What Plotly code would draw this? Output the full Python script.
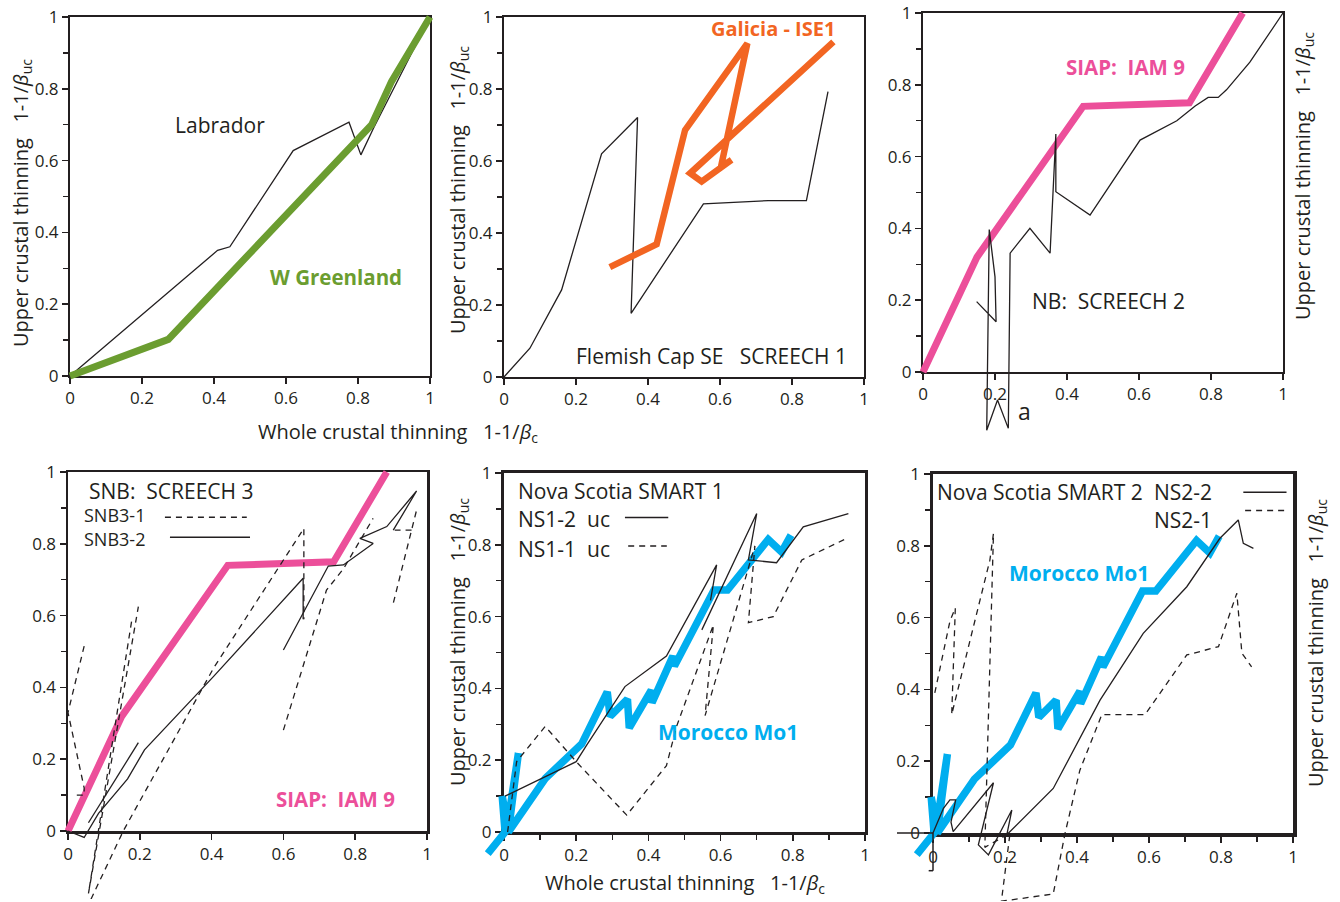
import plotly.graph_objects as go

# ---------------- data ----------------
# Panel 1: Labrador / W Greenland
labrador_x = [0, 0.41, 0.444, 0.62, 0.775, 0.808, 0.843, 0.93, 1.0]
labrador_y = [0, 0.35, 0.36, 0.628, 0.707, 0.616, 0.69, 0.86, 1.0]
greenland_x = [0, 0.273, 0.838, 0.893, 1.0]
greenland_y = [0, 0.102, 0.70, 0.82, 1.0]

# Panel 2: Flemish Cap SE SCREECH 1 / Galicia ISE1
flemish_x = [0, 0.072, 0.16, 0.271, 0.371, 0.353, 0.554, 0.734, 0.84, 0.90]
flemish_y = [0, 0.08, 0.242, 0.62, 0.721, 0.177, 0.481, 0.49, 0.49, 0.793]
galicia_x = [0.294, 0.424, 0.503, 0.676, 0.603, 0.632, 0.549, 0.517, 0.915]
galicia_y = [0.305, 0.369, 0.686, 0.927, 0.585, 0.603, 0.543, 0.566, 0.931]

# Panel 3: NB SCREECH 2 ; SIAP IAM 9 (also panel 4)
screech2_x = [0.149, 0.203, 0.2, 0.184, 0.177, 0.207, 0.237, 0.242, 0.297, 0.353,
              0.369, 0.369, 0.464, 0.603, 0.705, 0.756, 0.792, 0.82, 0.843, 0.908, 1.0]
screech2_y = [0.196, 0.14, 0.265, 0.397, -0.162, -0.078, -0.157, 0.331, 0.4, 0.331,
              0.663, 0.502, 0.437, 0.646, 0.7, 0.741, 0.765, 0.765, 0.786, 0.863, 1.0]
siap_x = [0, 0.15, 0.445, 0.74, 0.888]
siap_y = [0, 0.32, 0.74, 0.75, 1.0]

# Panel 4: SNB SCREECH 3 (None = break between line pieces)
snb31_x = [0.045, 0.0, 0.045, 0.045, 0.015, None,
           0.177, 0.057, 0.196, None,
           0.064, 0.154, 0.405, 0.6, 0.657, 0.657, None,
           0.6, 0.72, 0.767, 0.85, None,
           0.97, 0.957, 0.906, None,
           0.957, 0.91]
snb31_y = [0.515, 0.33, 0.12, 0.1, 0.1, None,
           0.583, -0.174, 0.625, None,
           -0.19, 0.0, 0.453, 0.755, 0.843, 0.59, None,
           0.281, 0.671, 0.73, 0.871, None,
           0.89, 0.838, 0.634, None,
           0.838, 0.838]
snb32_x = [0, 0.045, 0.085, 0.166, 0.213, 0.382, 0.405, 0.655, 0.655, None,
           0.057, 0.196, None,
           0.6, 0.725, 0.767, 0.85, 0.813, 0.888, 0.971, 0.906]
snb32_y = [0, -0.018, 0.049, 0.145, 0.226, 0.407, 0.43, 0.704, 0.59, None,
           0.023, 0.246, None,
           0.504, 0.738, 0.741, 0.801, 0.815, 0.848, 0.947, 0.838]

# Panel 5: Nova Scotia SMART 1
ns12_x = [0.003, 0.2, 0.229, 0.294, 0.335, 0.45, 0.589, 0.572, None,
          0.548, 0.7, 0.677, 0.755, 0.829, 0.954]
ns12_y = [0.1, 0.196, 0.242, 0.34, 0.405, 0.49, 0.744, 0.645, None,
          0.563, 0.887, 0.758, 0.75, 0.85, 0.887]
ns11_x = [0.01, 0.035, 0.114, 0.2, 0.34, 0.45, 0.478, 0.58, 0.557, 0.695,
          0.677, 0.746, 0.825, 0.954]
ns11_y = [0.0, 0.196, 0.294, 0.196, 0.047, 0.185, 0.294, 0.577, 0.324, 0.797,
          0.583, 0.6, 0.758, 0.82]

# Morocco Mo1 (panels 5 and 6)
mo1_x = [-0.045, 0.003, -0.005, 0.01, 0.04, 0.012, 0.115, 0.215, 0.286, 0.294,
         0.342, 0.347, 0.408, 0.41, 0.468, 0.472, 0.582, 0.619, 0.732, 0.769, 0.795]
mo1_y = [-0.06, 0.0, 0.1, 0.02, 0.22, 0.0, 0.15, 0.245, 0.39, 0.322,
         0.37, 0.29, 0.395, 0.36, 0.49, 0.462, 0.674, 0.674, 0.815, 0.78, 0.827]

# Panel 6: Nova Scotia SMART 2
ns22_x = [0.0, 0.029, 0.047, 0.063, 0.05, 0.056, 0.168, 0.126, 0.154, 0.219,
          0.205, 0.334, 0.464, 0.584, 0.705, 0.797, 0.848, 0.862, 0.89]
ns22_y = [0.0, 0.069, 0.092, 0.092, 0.03, 0.004, 0.14, -0.033, -0.061, 0.064,
          -0.005, 0.124, 0.37, 0.556, 0.686, 0.821, 0.872, 0.807, 0.793]
ns21_x = [0.005, 0.047, 0.062, 0.052, 0.158, 0.168, 0.144, 0.214, 0.19, 0.334,
          0.367, 0.408, 0.469, 0.589, 0.705, 0.793, 0.844, 0.858, 0.885]
ns21_y = [0.39, 0.59, 0.627, 0.33, 0.76, 0.835, -0.04, 0.0, -0.19, -0.17,
          0.0, 0.175, 0.33, 0.33, 0.496, 0.519, 0.668, 0.501, 0.463]

tick_vals = [0, 0.2, 0.4, 0.6, 0.8, 1]
tick_text = ["0", "0.2", "0.4", "0.6", "0.8", "1"]

# ---------------- styling / layout ----------------
W, H = 1340, 902
OX, OY = 0, 0          # page offset of the figure (body margin removed below)
INK = "#231f20"
GREEN = "#6b9d30"
ORANGE = "#f26522"
PINK = "#ec4f9a"
BLUE = "#00aeef"
FONT = "Open Sans"
NB = "\u00a0"

# frame boxes in window pixels: x0, x1, y_top, y_bottom
boxes = [
    (70, 430, 17, 376),
    (504, 864, 17, 377),
    (923, 1283, 13, 372),
    (68, 427, 472, 831),
    (504, 865, 473, 832),
    (933, 1293, 474, 833),
]
frame_w = [2, 2, 2, 2.5, 3, 3.5]


def fx(px):
    return (px - OX) / W


def fy(py):
    return 1 - (py - OY) / H


fig = go.Figure()
layout = {}


def ax_name(prefix, k):
    return prefix + ("" if k == 1 else str(k))


minor_ticks = dict(tickvals=[0.1, 0.3, 0.5, 0.7, 0.9], ticks="outside",
                   ticklen=5, tickwidth=1.3, tickcolor=INK, showgrid=False)

for i, (x0, x1, yt, yb) in enumerate(boxes, start=1):
    common = dict(range=[0, 1], showline=True, mirror=True, linecolor=INK,
                  linewidth=frame_w[i - 1], ticks="outside", ticklen=6,
                  tickwidth=1.5, tickcolor=INK, tickvals=tick_vals, ticktext=tick_text,
                  showgrid=False, zeroline=False, fixedrange=True, automargin=False,
                  ticklabeloverflow="allow",
                  tickfont=dict(family=FONT, size=17, color=INK))
    xa = dict(common, domain=[fx(x0), fx(x1)], anchor=ax_name("y", i))
    ya = dict(common, domain=[fy(yb), fy(yt)], anchor=ax_name("x", i),
              minor=minor_ticks)
    if i >= 5:
        xa["minor"] = minor_ticks
    layout["xaxis" + ("" if i == 1 else str(i))] = xa
    layout["yaxis" + ("" if i == 1 else str(i))] = ya
    fig.add_trace(go.Scatter(x=[], y=[], xaxis=ax_name("x", i), yaxis=ax_name("y", i),
                             showlegend=False, hoverinfo="skip"))

    # wider, invisible axes with the same scale so lines can run past the frame
    j = i + 6
    pl = min(60, x0 - OX)
    pr = min(55, W - (x1 - OX))
    pt = min(60, yt - OY)
    pb = min(68, H - (yb - OY))
    sx, sy = x1 - x0, yb - yt
    layout[f"xaxis{j}"] = dict(domain=[fx(x0 - pl), fx(x1 + pr)],
                               range=[-pl / sx, 1 + pr / sx], anchor=f"y{j}",
                               visible=False, fixedrange=True, automargin=False)
    layout[f"yaxis{j}"] = dict(domain=[fy(yb + pb), fy(yt - pt)],
                               range=[-pb / sy, 1 + pt / sy], anchor=f"x{j}",
                               visible=False, fixedrange=True, automargin=False)


def line(i, xs, ys, color, width, dash="solid"):
    j = i + 6
    fig.add_trace(go.Scatter(x=xs, y=ys, mode="lines", connectgaps=False,
                             line=dict(color=color, width=width, dash=dash),
                             xaxis=f"x{j}", yaxis=f"y{j}", showlegend=False,
                             hoverinfo="skip"))


DASH = "6px,5px"
# panel 1
line(1, labrador_x, labrador_y, INK, 1.3)
line(1, greenland_x, greenland_y, GREEN, 7)
# panel 2
line(2, flemish_x, flemish_y, INK, 1.3)
line(2, galicia_x, galicia_y, ORANGE, 6.5)
# panel 3
line(3, siap_x, siap_y, PINK, 7)
line(3, screech2_x, screech2_y, INK, 1.3)
# panel 4
line(4, siap_x, siap_y, PINK, 7)
line(4, snb31_x, snb31_y, INK, 1.3, DASH)
line(4, snb32_x, snb32_y, INK, 1.3)
# panel 5
line(5, mo1_x, mo1_y, BLUE, 7.5)
line(5, ns11_x, ns11_y, INK, 1.3, DASH)
line(5, ns12_x, ns12_y, INK, 1.3)
# panel 6
line(6, mo1_x, mo1_y, BLUE, 7.5)
line(6, ns21_x, ns21_y, INK, 1.3, DASH)
line(6, ns22_x, ns22_y, INK, 1.3)

annotations = []


def label(i, x, y, text, color=INK, size=21, bold=False, xanchor="center"):
    t = f"<b>{text}</b>" if bold else text
    annotations.append(dict(xref=f"x{i + 6}", yref=f"y{i + 6}", x=x, y=y, text=t,
                            showarrow=False, xanchor=xanchor, yanchor="middle",
                            font=dict(family=FONT, size=size, color=color)))


def paper_text(px, py, text, angle=0, size=20):
    annotations.append(dict(xref="paper", yref="paper", x=fx(px), y=fy(py),
                            text=text, showarrow=False, textangle=angle,
                            xanchor="center", yanchor="middle",
                            font=dict(family=FONT, size=size, color=INK)))


label(1, 0.417, 0.70, "Labrador")
label(1, 0.739, 0.276, "W Greenland", GREEN, 20.5, True)
label(2, 0.746, 0.969, "Galicia - ISE1", ORANGE, 20, True)
label(2, 0.577, 0.058, f"Flemish Cap SE{NB*3}SCREECH 1")
label(3, 0.562, 0.85, f"SIAP:{NB*2}IAM 9", PINK, 20.5, True)
label(3, 0.515, 0.198, f"NB:{NB*2}SCREECH 2")
label(3, 0.283, -0.11, "a", size=23)
label(4, 0.052, 0.948, f"SNB:{NB*2}SCREECH 3", xanchor="left")
label(4, 0.038, 0.881, "SNB3-1", size=18, xanchor="left")
label(4, 0.038, 0.813, "SNB3-2", size=18, xanchor="left")
label(4, 0.744, 0.088, f"SIAP:{NB*2}IAM 9", PINK, 20.5, True)
label(5, 0.033, 0.951, "Nova Scotia SMART 1", xanchor="left")
label(5, 0.033, 0.872, f"NS1-2{NB*2}uc", xanchor="left")
label(5, 0.033, 0.787, f"NS1-1{NB*2}uc", xanchor="left")
label(5, 0.62, 0.279, "Morocco Mo1", BLUE, 21, True)
label(6, 0.006, 0.949, "Nova Scotia SMART 2", xanchor="left")
label(6, 0.607, 0.949, "NS2-2", xanchor="left")
label(6, 0.607, 0.872, "NS2-1", xanchor="left")
label(6, 0.406, 0.723, "Morocco Mo1", BLUE, 21, True)

ytitle = f"Upper crustal thinning{NB*3}1-1/<i>β</i><sub>uc</sub>"
xtitle = f"Whole crustal thinning{NB*3}1-1/<i>β</i><sub>c</sub>"
paper_text(21, 203, ytitle, -90)
paper_text(458, 190, ytitle, -90)
paper_text(1304, 176, ytitle, -90)
paper_text(458, 642, ytitle, -90)
paper_text(1316, 643, ytitle, -90)
paper_text(398, 432, xtitle)
paper_text(685, 883, xtitle)

shapes = []


def seg(i, xa, ya, xb, yb, dash="solid", width=1.5):
    shapes.append(dict(type="line", xref=f"x{i + 6}", yref=f"y{i + 6}",
                       x0=xa, y0=ya, x1=xb, y1=yb,
                       line=dict(color=INK, width=width, dash=dash)))


# legend samples
seg(4, 0.27, 0.874, 0.498, 0.874, DASH)
seg(4, 0.284, 0.818, 0.507, 0.818)
seg(5, 0.335, 0.876, 0.455, 0.876)
seg(5, 0.344, 0.797, 0.451, 0.797, DASH)
seg(6, 0.862, 0.949, 0.982, 0.949)
seg(6, 0.867, 0.898, 0.978, 0.898, DASH)
# extended axis strokes in panel 6
seg(6, -0.1, 0, 0, 0)
seg(6, 0, 0, 0, -0.105)
seg(6, -0.012, -0.105, 0, -0.105)

layout.update(dict(width=W, height=H,
                   margin=dict(l=0, r=0, t=0, b=0, pad=0, autoexpand=False),
                   autosize=False, paper_bgcolor="white",
                   plot_bgcolor="rgba(0,0,0,0)", showlegend=False,
                   annotations=annotations, shapes=shapes,
                   font=dict(family=FONT, color=INK)))
fig.update_layout(**layout)
fig.write_html("out.html",
               config={"displayModeBar": False, "staticPlot": True},
               post_script="document.body.style.margin='0px';")
